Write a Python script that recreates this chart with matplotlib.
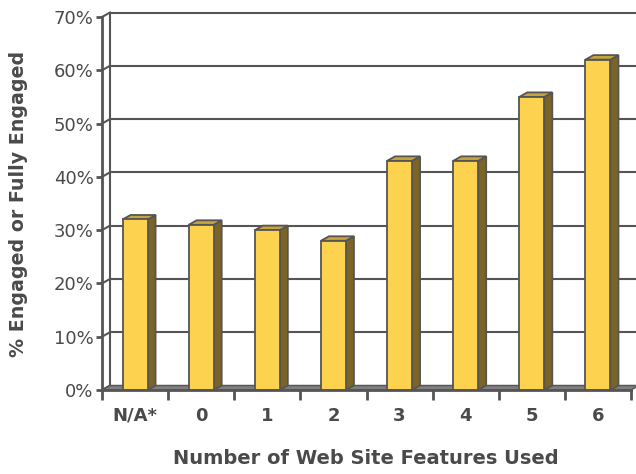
import matplotlib
matplotlib.use("Agg")
import matplotlib.pyplot as plt
from matplotlib.patches import Polygon, Rectangle

categories = ["N/A*", "0", "1", "2", "3", "4", "5", "6"]
values = [32, 31, 30, 28, 43, 43, 55, 62]
y_ticks = [0, 10, 20, 30, 40, 50, 60, 70]
y_tick_labels = ["0%", "10%", "20%", "30%", "40%", "50%", "60%", "70%"]

W, H = 636, 474
TEXT = "#4a4a4a"
LINE = "#555555"
FRONT = "#fdd24f"
SIDE = "#7c6426"
TOP = "#c9a43a"
FLOOR = "#7f7f7f"

plt.rcParams["font.family"] = ["DejaVu Sans"]

fig = plt.figure(figsize=(W / 100, H / 100), dpi=100)
# front plane of the pseudo-3D box, in pixels
x0, x1 = 102, 631
y0, y1 = 390, 17
ax = fig.add_axes([x0 / W, 1 - y0 / H, (x1 - x0) / W, (y0 - y1) / H])
n = len(categories)
ax.set_xlim(0, n)
ax.set_ylim(0, 70)

# depth offset (8 px right, 4.5 px up) in data units
DX = 8 / ((x1 - x0) / n)
DY = 4.5 / ((y0 - y1) / 70)

# back wall gridlines + left wall
for v in y_ticks:
    ax.plot([DX, n + DX + 0.2], [v + DY, v + DY], color=LINE, lw=1.5,
            clip_on=False, zorder=1, solid_capstyle="butt")
    ax.plot([0, DX], [v, v + DY], color=LINE, lw=1.5, clip_on=False, zorder=1)
ax.plot([DX, DX], [DY, 70 + DY], color=LINE, lw=1.5, clip_on=False, zorder=1)

# floor
ax.add_patch(Polygon([(0, 0), (n, 0), (n + DX, DY), (DX, DY)], closed=True,
                     facecolor=FLOOR, edgecolor=LINE, lw=1.0, clip_on=False, zorder=2))

# bars
bw = 25 / ((x1 - x0) / n)
for i, v in enumerate(values):
    c = i + 0.5
    l, r = c - bw / 2, c + bw / 2
    ax.add_patch(Polygon([(r, 0), (r + DX, DY), (r + DX, v + DY), (r, v)], closed=True,
                         facecolor=SIDE, edgecolor=LINE, lw=1.3, clip_on=False, zorder=3))
    ax.add_patch(Polygon([(l, v), (r, v), (r + DX, v + DY), (l + DX, v + DY)], closed=True,
                         facecolor=TOP, edgecolor=LINE, lw=1.3, clip_on=False, zorder=3))
    ax.add_patch(Rectangle((l, 0), bw, v, facecolor=FRONT, edgecolor=LINE, lw=1.3,
                           clip_on=False, zorder=4))

for s in ["top", "right"]:
    ax.spines[s].set_visible(False)
for s in ["left", "bottom"]:
    ax.spines[s].set_color(LINE)
    ax.spines[s].set_linewidth(2.0)
    ax.spines[s].set_zorder(5)

ax.set_yticks(y_ticks)
ax.set_yticklabels(y_tick_labels, fontsize=13, color=TEXT)
ax.set_xticks(range(n + 1))
ax.set_xticklabels([])
ax.set_xticks([i + 0.5 for i in range(n)], minor=True)
ax.set_xticklabels(categories, minor=True, fontsize=13, fontweight="bold", color=TEXT)
ax.tick_params(axis="y", length=4, width=2, color=LINE, pad=2)
ax.tick_params(axis="x", which="major", length=7, width=2, color=LINE)
ax.tick_params(axis="x", which="minor", length=0, pad=12)
ax.patch.set_visible(False)

fig.text(366 / W, 1 - 458 / H, "Number of Web Site Features Used", ha="center", va="center",
         fontsize=14, fontweight="bold", color=TEXT)
fig.text(19 / W, 1 - 204 / H, "% Engaged or Fully Engaged", ha="center", va="center",
         rotation=90, fontsize=13.7, fontweight="bold", color=TEXT)

fig.savefig("out.png", dpi=100)
